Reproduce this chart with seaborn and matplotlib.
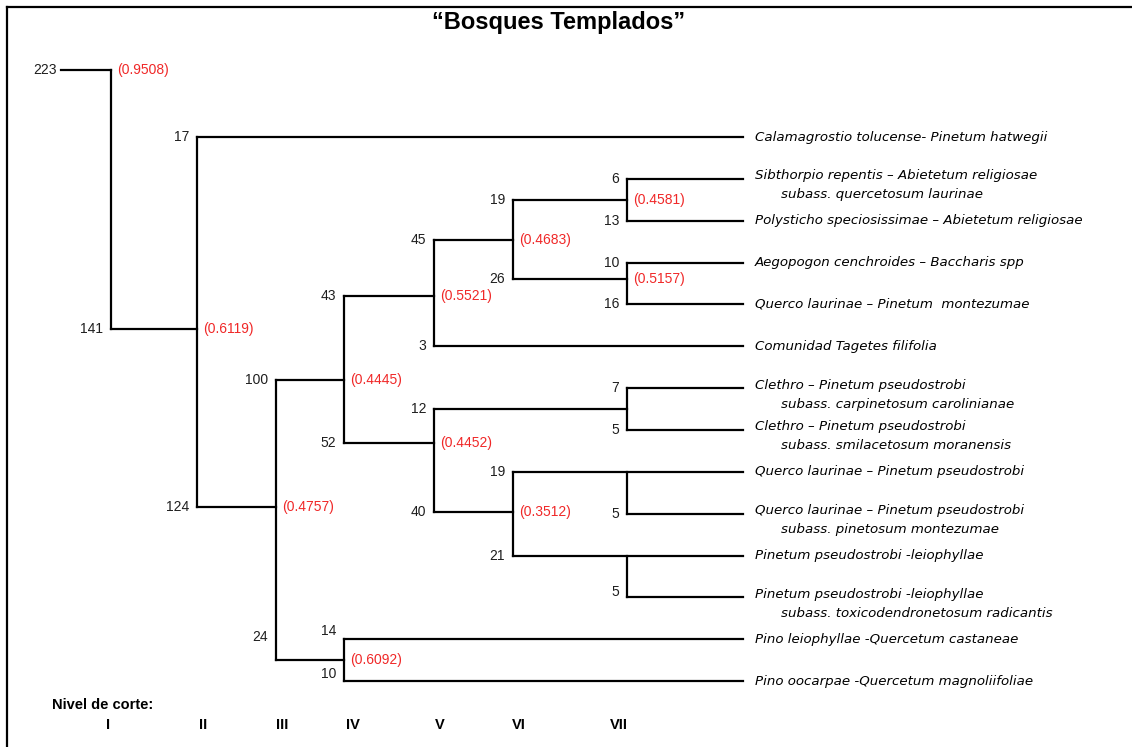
import pandas as pd
import seaborn as sns
import matplotlib.pyplot as plt

# dendrogram data (rows: leaves are 0..13 top to bottom)
levels = ["I", "II", "III", "IV", "V", "VI", "VII"]

branch_count = [223, 141, 17, 124, 100, 24, 43, 52, 45, 3, 19, 26, 6, 13,
                10, 16, 12, 7, 5, 40, 19, 5, 21, 5, 14, 10]
branch_parent = [-1, 0, 1, 1, 3, 3, 4, 4, 6, 6, 8, 8, 10, 10,
                 11, 11, 7, 16, 16, 7, 19, 20, 19, 22, 5, 5]
branch_row = [-1.6, 4.59, 0, 8.85, 5.8, 12.5, 3.8, 7.3, 2.45, 5, 1.5, 3.4, 1, 2,
              3, 4, 6.5, 6, 7, 8.95, 8, 9, 10, 11, 12, 13]
# cut level where the branch splits (None = no split)
branch_node = [0, 1, None, 2, 3, 3, 4, 4, 5, None, 6, 6, None, None,
               None, None, 6, None, None, 5, 6, None, 6, None, None, None]
branch_leaf = [None, None, 0, None, None, None, None, None, None, 5, None, None, 1, 2,
               3, 4, None, 6, 7, None, 8, 9, 10, 11, 12, 13]
node_similarity = ["0.9508", "0.6119", None, "0.4757", "0.4445", "0.6092", "0.5521",
                   "0.4452", "0.4683", None, "0.4581", "0.5157", None, None,
                   None, None, None, None, None, "0.3512", None, None, None, None,
                   None, None]

leaf_main = [
    "Calamagrostio tolucense- Pinetum hatwegii",
    "Sibthorpio repentis \u2013 Abietetum religiosae",
    "Polysticho speciosissimae \u2013 Abietetum religiosae",
    "Aegopogon cenchroides \u2013 Baccharis spp",
    "Querco laurinae \u2013 Pinetum  montezumae",
    "Comunidad Tagetes filifolia",
    "Clethro \u2013 Pinetum pseudostrobi",
    "Clethro \u2013 Pinetum pseudostrobi",
    "Querco laurinae \u2013 Pinetum pseudostrobi",
    "Querco laurinae \u2013 Pinetum pseudostrobi",
    "Pinetum pseudostrobi -leiophyllae",
    "Pinetum pseudostrobi -leiophyllae",
    "Pino leiophyllae -Quercetum castaneae",
    "Pino oocarpae -Quercetum magnoliifoliae",
]
leaf_sub = [
    None,
    "subass. quercetosum laurinae",
    None, None, None, None,
    "subass. carpinetosum carolinianae",
    "subass. smilacetosum moranensis",
    None,
    "subass. pinetosum montezumae",
    None,
    "subass. toxicodendronetosum radicantis",
    None, None,
]

# layout (pixel-like x units, rows scaled to pixels)
W, H = 1132, 747
level_x = [111, 197, 276, 344, 434, 513, 627]
cut_label_x = [108, 203, 282, 353, 440, 519, 619]
root_x = 61
leaf_end = 743
text_x = 755
ROW0, ROWH = 137, 41.85
count_nudge = {5: -23, 24: -8, 25: -7, 23: -5}


def px(v):
    return v / ROWH


segs = []
for i, cnt in enumerate(branch_count):
    p = branch_parent[i]
    x0 = root_x if p < 0 else level_x[branch_node[p]]
    x1 = leaf_end if branch_leaf[i] is not None else level_x[branch_node[i]]
    segs.append({"seg": f"h{i}", "x": x0, "y": branch_row[i]})
    segs.append({"seg": f"h{i}", "x": x1, "y": branch_row[i]})
    if branch_node[i] is not None:
        rows = [branch_row[i]] + [branch_row[j] for j in range(len(branch_count))
                                  if branch_parent[j] == i]
        xv = level_x[branch_node[i]]
        segs.append({"seg": f"v{i}", "x": xv, "y": min(rows)})
        segs.append({"seg": f"v{i}", "x": xv, "y": max(rows)})

seg_df = pd.DataFrame(segs)

sns.set_style("white")
plt.rcParams["font.family"] = ["Liberation Sans", "DejaVu Sans"]
plt.rcParams["text.color"] = "black"

fig = plt.figure(figsize=(W / 100, H / 100), dpi=100)
ax = fig.add_axes([7 / W, 0, 1 - 7 / W, 1 - 7 / H])

sns.lineplot(
    data=seg_df,
    x="x",
    y="y",
    units="seg",
    estimator=None,
    sort=False,
    color="black",
    linewidth=1.6,
    solid_capstyle="projecting",
    legend=False,
    ax=ax
)

ax.set_xlim(7, W)
ax.set_ylim(px(H - ROW0), px(7 - ROW0))
ax.set_xlabel("")
ax.set_ylabel("")
ax.set_xticks([])
ax.set_yticks([])
for side in ["right", "bottom"]:
    ax.spines[side].set_visible(False)
for side in ["left", "top"]:
    ax.spines[side].set_color("black")
    ax.spines[side].set_linewidth(1.6)

# counts and similarity values
for i, cnt in enumerate(branch_count):
    p = branch_parent[i]
    x0 = root_x - 4 if p < 0 else level_x[branch_node[p]] - 8
    y = branch_row[i] + px(count_nudge.get(i, 0))
    ax.text(x0, y, str(cnt), ha="right", va="center",
            fontsize=10, color="#1e1e1e")
    if node_similarity[i] is not None:
        ax.text(level_x[branch_node[i]] + 6, branch_row[i],
                f"({node_similarity[i]})", ha="left", va="center",
                fontsize=10, color="#f02828")

# leaf names
leaf_font = dict(fontsize=9.6, style="italic", family="DejaVu Sans",
                 color="black", ha="left", va="center")
for i, leaf in enumerate(branch_leaf):
    if leaf is None:
        continue
    r = branch_row[i]
    if leaf_sub[leaf] is None:
        ax.text(text_x, r, leaf_main[leaf], **leaf_font)
    else:
        ax.text(text_x, r - px(3), leaf_main[leaf], **leaf_font)
        ax.text(text_x + 26, r + px(16), leaf_sub[leaf], **leaf_font)

fig.text(559 / W, 1 - 23 / H, "\u201cBosques Templados\u201d",
         ha="center", va="center", fontsize=17, fontweight="bold")

fig.text(52 / W, 1 - 705 / H, "Nivel de corte:", ha="left", va="center",
         fontsize=10.5, fontweight="bold")
for lx, lab in zip(cut_label_x, levels):
    fig.text(lx / W, 1 - 725 / H, lab, ha="center", va="center",
             fontsize=10.5, fontweight="bold")

plt.savefig("out.png", dpi=100)
